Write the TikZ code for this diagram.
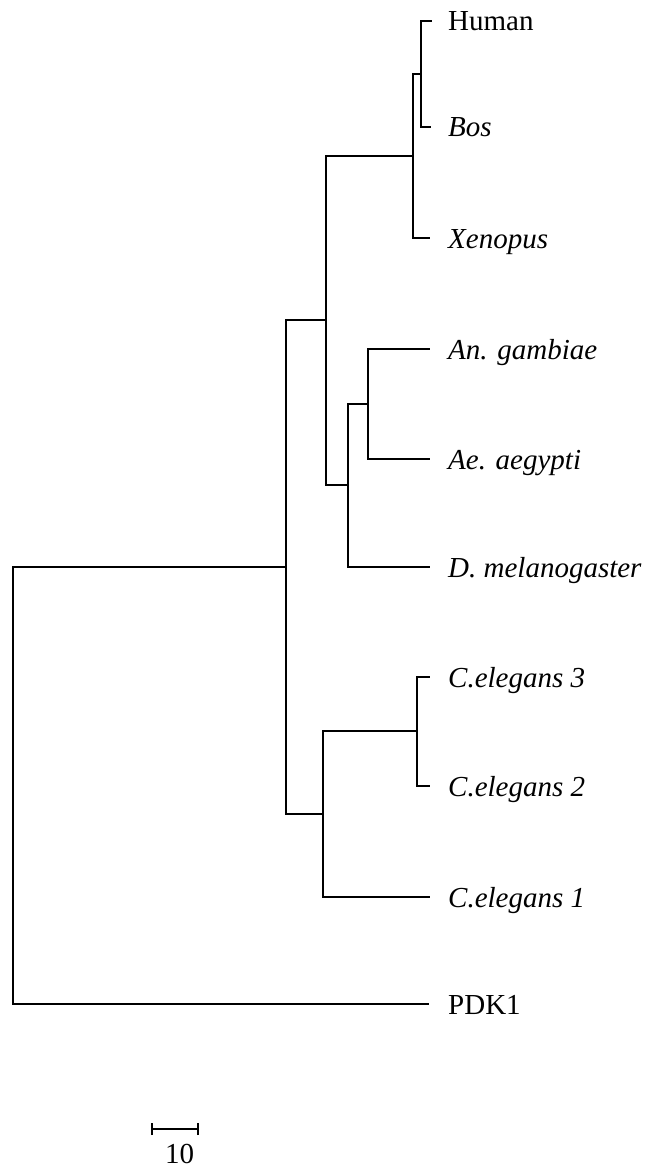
\documentclass[tikz,border=0pt]{standalone}
\usepackage{fontspec}
\setmainfont{Liberation Serif}
\begin{document}
\begin{tikzpicture}[x=1pt,y=-1pt,
  edge/.style={line width=1.5pt,line cap=rect},
  leaf/.style={anchor=base west,inner sep=0pt,font=\fontsize{29}{34}\selectfont},
  lab/.style={anchor=base,inner sep=0pt,font=\fontsize{29}{34}\selectfont}]
\useasboundingbox (0,0) rectangle (649,1174);
% internal nodes
\coordinate (hb) at (421,74);
\coordinate (vert) at (413,156);
\coordinate (aa) at (368,404);
\coordinate (ins) at (348,485);
\coordinate (vi) at (326,320);
\coordinate (cc) at (417,731);
\coordinate (ce) at (323,814);
\coordinate (bil) at (286,567);
\coordinate (root) at (13,786);
% tips
\coordinate (tHuman) at (431,21);
\coordinate (tBos) at (430,127);
\coordinate (tXen) at (429,238);
\coordinate (tAn) at (429,349);
\coordinate (tAe) at (429,459);
\coordinate (tDm) at (429,567);
\coordinate (tC3) at (429,677);
\coordinate (tC2) at (429,786);
\coordinate (tC1) at (429,897);
\coordinate (tPdk) at (428,1004);
% labels
\node[leaf] (human) at (448,31) {Human};
\node[leaf] (bos) at (448,137) {\itshape Bos};
\node[leaf] (xen) at (448,248) {\itshape Xenopus};
\node[leaf] (an) at (448,359) {\itshape An. gambiae};
\node[leaf] (ae) at (448,469) {\itshape Ae. aegypti};
\node[leaf] (dm) at (448,577) {\itshape D. melanogaster};
\node[leaf] (c3) at (448,687) {\itshape C.elegans 3};
\node[leaf] (c2) at (448,796) {\itshape C.elegans 2};
\node[leaf] (c1) at (448,907) {\itshape C.elegans 1};
\node[leaf] (pdk) at (448,1014) {PDK1};
% edges
\draw[edge] (hb) |- (tHuman);
\draw[edge] (hb) |- (tBos);
\draw[edge] (vert) |- (hb);
\draw[edge] (vert) |- (tXen);
\draw[edge] (aa) |- (tAn);
\draw[edge] (aa) |- (tAe);
\draw[edge] (ins) |- (aa);
\draw[edge] (ins) |- (tDm);
\draw[edge] (vi) |- (vert);
\draw[edge] (vi) |- (ins);
\draw[edge] (cc) |- (tC3);
\draw[edge] (cc) |- (tC2);
\draw[edge] (ce) |- (cc);
\draw[edge] (ce) |- (tC1);
\draw[edge] (bil) |- (vi);
\draw[edge] (bil) |- (ce);
\draw[edge] (root) |- (bil);
\draw[edge] (root) |- (tPdk);
% scale bar
\coordinate (sbL) at (152,1129);
\coordinate (sbR) at (198,1129);
\draw[line width=1.5pt] (sbL) -- (sbR);
\draw[line width=1.5pt] ([yshift=-6pt]sbL) -- ([yshift=6pt]sbL);
\draw[line width=1.5pt] ([yshift=-6pt]sbR) -- ([yshift=6pt]sbR);
\node[lab] (sblab) at (179.5,1163) {10};
\end{tikzpicture}
\end{document}
